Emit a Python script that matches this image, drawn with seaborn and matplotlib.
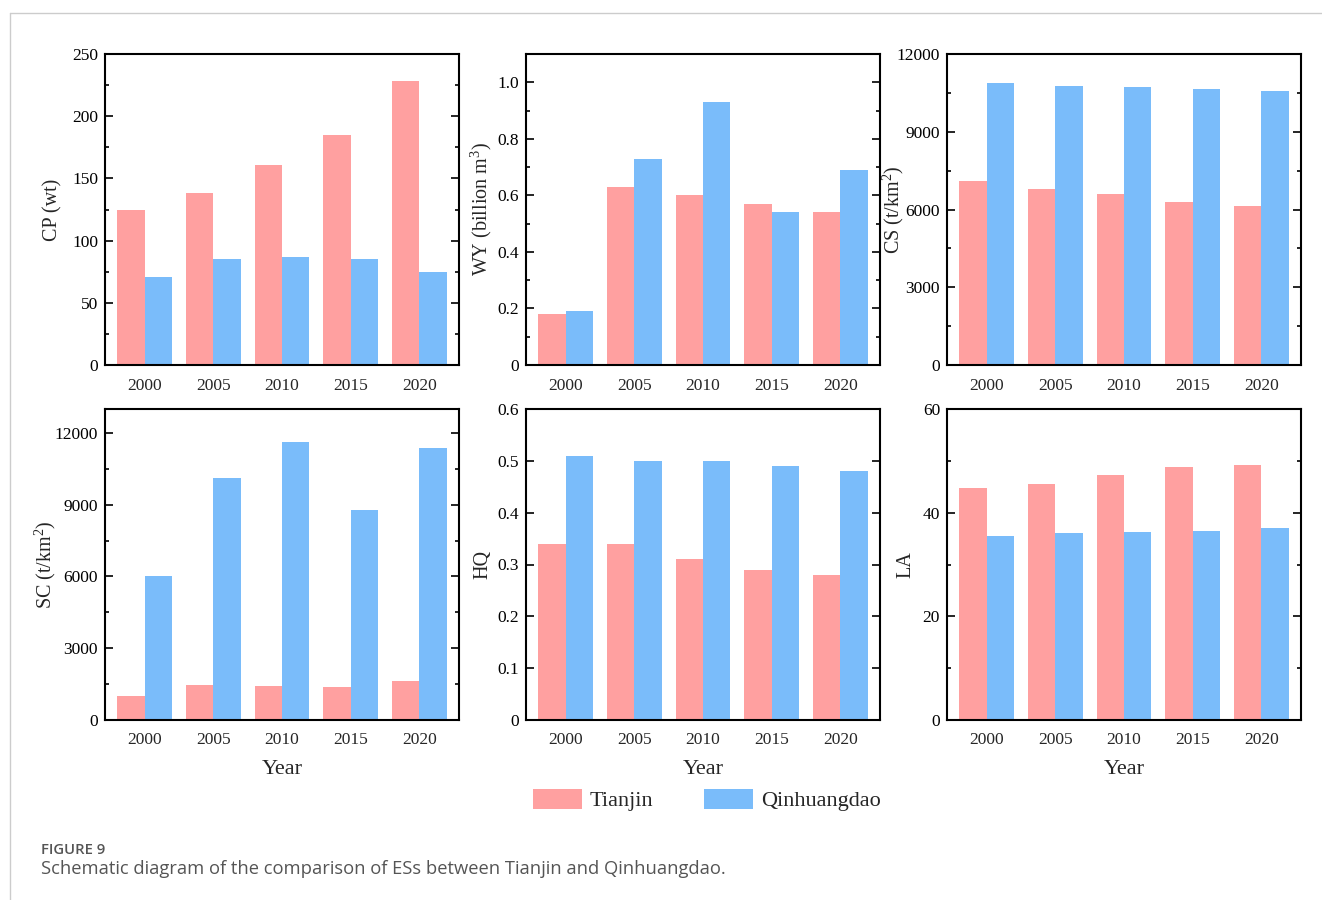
import numpy as np
import pandas as pd
import seaborn as sns
import matplotlib.pyplot as plt
from matplotlib.ticker import MultipleLocator, AutoMinorLocator, FuncFormatter
from matplotlib.patches import Patch
from matplotlib.lines import Line2D

# Datos
years = ["2000", "2005", "2010", "2015", "2020"]
cities = ["Tianjin", "Qinhuangdao"]

cp_tianjin = [125, 138, 161, 185, 228]
cp_qinhuangdao = [71, 85, 87, 85, 75]

wy_tianjin = [0.18, 0.63, 0.60, 0.57, 0.54]
wy_qinhuangdao = [0.19, 0.73, 0.93, 0.54, 0.69]

cs_tianjin = [7100, 6800, 6600, 6280, 6120]
cs_qinhuangdao = [10870, 10780, 10720, 10660, 10560]

sc_tianjin = [1000, 1480, 1420, 1370, 1620]
sc_qinhuangdao = [6000, 10120, 11600, 8780, 11380]

hq_tianjin = [0.34, 0.34, 0.31, 0.29, 0.28]
hq_qinhuangdao = [0.51, 0.50, 0.50, 0.49, 0.48]

la_tianjin = [44.7, 45.6, 47.2, 48.8, 49.2]
la_qinhuangdao = [35.5, 36.0, 36.2, 36.5, 37.0]

colores = {"Tianjin": "#FFA0A0", "Qinhuangdao": "#7ABCFA"}

sns.set_theme(style="white")
plt.rcParams["font.family"] = ["Liberation Serif", "DejaVu Serif"]
plt.rcParams["mathtext.default"] = "regular"


def tabla(t, q):
    return pd.DataFrame({
        "Year": years * 2,
        "City": ["Tianjin"] * 5 + ["Qinhuangdao"] * 5,
        "value": list(t) + list(q),
    })


def fmt_dec(v, pos):
    return "0" if abs(v) < 1e-9 else f"{v:.1f}"


def fmt_int(v, pos):
    return f"{v:g}"


# (datos, ylabel, ylim, paso mayor, minor, formato, fila, columna, x del ylabel)
paneles = [
    (tabla(cp_tianjin, cp_qinhuangdao), "CP (wt)", 250, 50, True, fmt_int, 0, 0, -0.119),
    (tabla(wy_tianjin, wy_qinhuangdao), "WY (billion m$^3$)", 1.1, 0.2, True, fmt_dec, 0, 1, -0.090),
    (tabla(cs_tianjin, cs_qinhuangdao), "CS (t/km$^2$)", 12000, 3000, True, fmt_int, 0, 2, -0.116),
    (tabla(sc_tianjin, sc_qinhuangdao), "SC (t/km$^2$)", 13000, 3000, True, fmt_int, 1, 0, -0.133),
    (tabla(hq_tianjin, hq_qinhuangdao), "HQ", 0.6, 0.1, False, fmt_dec, 1, 1, -0.096),
    (tabla(la_tianjin, la_qinhuangdao), "LA", 60, 20, True, fmt_int, 1, 2, -0.090),
]

fig = plt.figure(figsize=(13.22, 9), dpi=100)
W, H = 1322, 900
lefts = [105, 526, 947]
tops = [54, 409]
ancho, alto = 354, 311

for df, ylab, ytop, paso, minor, fmt, fila, col, xlab in paneles:
    ax = fig.add_axes([lefts[col] / W, 1 - (tops[fila] + alto) / H, ancho / W, alto / H])
    sns.barplot(data=df, x="Year", y="value", hue="City", palette=colores,
                hue_order=cities, saturation=1, linewidth=0, ax=ax, legend=False)
    ax.set_xlim(-0.58, 4.58)
    ax.set_ylim(0, ytop)
    ax.yaxis.set_major_locator(MultipleLocator(paso))
    if minor:
        ax.yaxis.set_minor_locator(AutoMinorLocator(2))
    ax.yaxis.set_major_formatter(FuncFormatter(fmt))
    ax.tick_params(axis="y", which="both", direction="in", left=True, right=True,
                   labelsize=12.5, colors="black", pad=5)
    ax.tick_params(axis="y", which="major", length=6, width=1.2)
    ax.tick_params(axis="y", which="minor", length=3, width=1.2)
    ax.tick_params(axis="x", bottom=False, labelsize=12.5, pad=3)
    for s in ax.spines.values():
        s.set_visible(True)
        s.set_color("black")
        s.set_linewidth(1.5)
    ax.set_ylabel(ylab, fontsize=14.5)
    ax.yaxis.set_label_coords(xlab, 0.5)
    if fila == 1:
        ax.set_xlabel("Year", fontsize=16, labelpad=8)
    else:
        ax.set_xlabel("")

# Leyenda comun
handles = [Patch(facecolor=colores[c], edgecolor="none", label=c) for c in cities]
fig.legend(handles=handles, loc="center", bbox_to_anchor=(707 / W, 1 - 800 / H),
           ncol=2, frameon=False, fontsize=16, handlelength=2.2, handleheight=1.0,
           columnspacing=2.3, handletextpad=0.35)

# Marco y pie de figura
fig.add_artist(Line2D([10 / W, 1], [1 - 13 / H, 1 - 13 / H], color="#CCCCCC", lw=1))
fig.add_artist(Line2D([10 / W, 10 / W], [0, 1 - 13 / H], color="#CCCCCC", lw=1))
fig.text(41 / W, 1 - 850 / H, "FIGURE 9", fontsize=10.7, fontweight="semibold",
         color="#555555", family=["Open Sans", "DejaVu Sans"], va="center")
fig.text(41 / W, 1 - 869 / H, "Schematic diagram of the comparison of ESs between Tianjin and Qinhuangdao.",
         fontsize=13.2, color="#555555", family=["Open Sans", "DejaVu Sans"], va="center")

plt.savefig("out.png", dpi=100)
